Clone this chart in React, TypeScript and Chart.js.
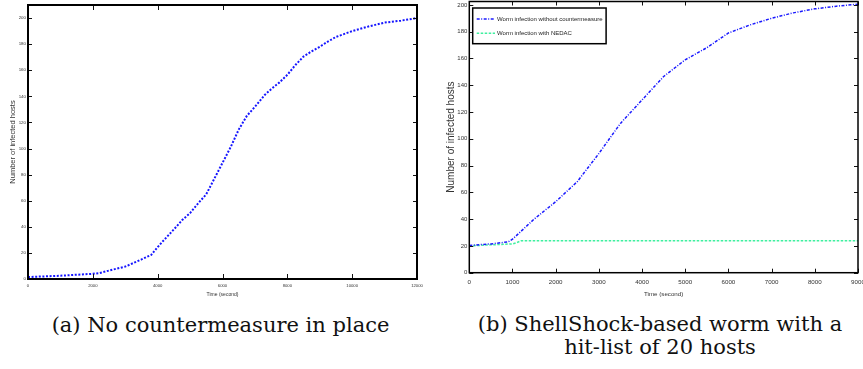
import { useEffect, useRef } from "react";
import { Chart, registerables } from "chart.js";

Chart.register(...registerables);

// ---------- Data: (a) No countermeasure ----------
const timeA = [0, 1000, 2000, 2200, 2500, 3000, 3500, 3800, 4000, 4200, 4500, 4750, 5000, 5250, 5500, 5750, 6000, 6250, 6500, 6750, 7000, 7300, 7500, 7750, 8000, 8250, 8500, 8750, 9000, 9250, 9500, 10000, 10500, 11000, 11500, 12000];
const hostsA = [1.5, 2.5, 4, 4.5, 6.5, 9.5, 15, 18.5, 24.5, 30, 38, 45, 50.5, 58, 65, 77, 89, 101, 114.5, 125, 132, 141, 145.5, 150.5, 156.5, 164, 170.5, 174.5, 178, 182, 185.5, 190, 193.5, 196.5, 198, 200];
const xTicksA = [0, 2000, 4000, 6000, 8000, 10000, 12000];
const yTicksA = [0, 20, 40, 60, 80, 100, 120, 140, 160, 180, 200];

// ---------- Data: (b) ShellShock worm, hit-list of 20 ----------
const timeB = [0, 500, 900, 1000, 1500, 2000, 2500, 3000, 3500, 4000, 4500, 5000, 5500, 6000, 6500, 7000, 7500, 8000, 8500, 9000];
const withoutB = [20.4, 21.5, 23, 25, 40, 53, 68, 89, 111.5, 129, 146.5, 159, 168, 179, 185, 190, 194, 197, 199, 200.5];
const timeN = [0, 500, 1000, 1100, 1200, 2000, 3000, 4000, 5000, 6000, 7000, 8000, 9000];
const withNedac = [20, 20.8, 21.5, 22.5, 23.8, 23.8, 23.8, 23.8, 23.8, 23.8, 23.8, 23.8, 23.8];
const xTicksB = [0, 1000, 2000, 3000, 4000, 5000, 6000, 7000, 8000, 9000];
const yTicksB = [0, 20, 40, 60, 80, 100, 120, 140, 160, 180, 200];

const labelA = "Worm infection";
const labelB1 = "Worm infection without countermeasure";
const labelB2 = "Worm infection with NEDAC";
const xTitle = "Time (second)";
const yTitle = "Number of infected hosts";

const SANS = '"Liberation Sans", Arial, sans-serif';

const pts = (xs: number[], ys: number[]) => xs.map((x, i) => ({ x, y: ys[i] }));

function framePlugin(o: { w: number; tx: number; ty: number }) {
  return {
    id: "frame",
    afterDatasetsDraw(chart: any) {
      const { ctx, chartArea, scales } = chart;
      const { left, top, right, bottom } = chartArea;
      const x = scales.x;
      const y = scales.y;
      ctx.save();
      ctx.strokeStyle = "#111";
      ctx.lineWidth = 1;
      ctx.setLineDash([]);
      ctx.beginPath();
      x.ticks.forEach((t: any) => {
        const px = Math.round(x.getPixelForValue(t.value)) + 0.5;
        ctx.moveTo(px, bottom);
        ctx.lineTo(px, bottom - o.tx);
        ctx.moveTo(px, top);
        ctx.lineTo(px, top + o.tx);
      });
      y.ticks.forEach((t: any) => {
        const py = Math.round(y.getPixelForValue(t.value)) + 0.5;
        ctx.moveTo(left, py);
        ctx.lineTo(left + o.ty, py);
        ctx.moveTo(right, py);
        ctx.lineTo(right - o.ty, py);
      });
      ctx.stroke();
      ctx.strokeStyle = "#000";
      ctx.lineWidth = o.w;
      ctx.strokeRect(left, top, right - left, bottom - top);
      ctx.restore();
    },
  };
}

const legendPlugin = {
  id: "boxLegend",
  afterDraw(chart: any) {
    const { ctx, chartArea } = chart;
    const ds = chart.data.datasets;
    const x0 = chartArea.left + 3.4;
    const y0 = chartArea.top + 6.5;
    ctx.save();
    ctx.font = `6px ${SANS}`;
    let maxW = 0;
    ds.forEach((d: any) => { maxW = Math.max(maxW, ctx.measureText(d.label).width); });
    const w = 24.3 + maxW + 3.5;
    const h = 35.7;
    ctx.fillStyle = "#fff";
    ctx.fillRect(x0, y0, w, h);
    ctx.strokeStyle = "#000";
    ctx.lineWidth = 1.5;
    ctx.strokeRect(x0, y0, w, h);
    ds.forEach((d: any, i: number) => {
      const cy = y0 + 11 + i * 14.3;
      ctx.strokeStyle = d.borderColor;
      ctx.lineWidth = d.borderWidth;
      ctx.setLineDash(d.borderDash || []);
      ctx.beginPath();
      ctx.moveTo(x0 + 4, cy);
      ctx.lineTo(x0 + 22.3, cy);
      ctx.stroke();
      ctx.setLineDash([]);
      ctx.fillStyle = "#222";
      ctx.textBaseline = "middle";
      ctx.textAlign = "left";
      ctx.fillText(d.label, x0 + 24.3, cy);
    });
    ctx.restore();
  },
};

function makeScales(p: {
  xMax: number; yMax: number; xTicks: number[]; yTicks: number[];
  yWidth: number; xHeight: number;
  tickFontX: number; tickFontY: number; xTitleFont: number; yTitleFont: number;
  xTickPad: number; yTickPad: number; xTitlePadBottom: number; yTitlePadTop: number;
}) {
  return {
    x: {
      type: "linear",
      min: 0,
      max: p.xMax,
      afterBuildTicks: (s: any) => { s.ticks = p.xTicks.map((v) => ({ value: v })); },
      afterFit: (s: any) => { s.height = p.xHeight; s.paddingLeft = 0; s.paddingRight = 0; },
      ticks: { font: { family: SANS, size: p.tickFontX }, color: "#333", padding: p.xTickPad, maxRotation: 0, autoSkip: false, callback: (v: any) => String(v) },
      grid: { display: false, drawTicks: false },
      border: { display: false },
      title: { display: true, text: xTitle, font: { family: SANS, size: p.xTitleFont }, color: "#333", padding: { top: 0, bottom: p.xTitlePadBottom } },
    },
    y: {
      type: "linear",
      min: 0,
      max: p.yMax,
      afterBuildTicks: (s: any) => { s.ticks = p.yTicks.map((v) => ({ value: v })); },
      afterFit: (s: any) => { s.width = p.yWidth; s.paddingTop = 0; s.paddingBottom = 0; },
      ticks: { font: { family: SANS, size: p.tickFontY }, color: "#333", padding: p.yTickPad, autoSkip: false, callback: (v: any) => String(v) },
      grid: { display: false, drawTicks: false },
      border: { display: false },
      title: { display: true, text: yTitle, font: { family: SANS, size: p.yTitleFont }, color: "#333", padding: { top: p.yTitlePadTop, bottom: 0 } },
    },
  };
}

export default function App() {
  const refA = useRef<HTMLCanvasElement>(null);
  const refB = useRef<HTMLCanvasElement>(null);

  useEffect(() => {
    document.body.style.margin = "0";
    const chartA = new Chart(refA.current as HTMLCanvasElement, {
      type: "line",
      data: {
        datasets: [
          { label: labelA, data: pts(timeA, hostsA), borderColor: "#1515ff", borderWidth: 2, borderDash: [2, 1.6], pointRadius: 0, tension: 0, fill: false },
        ],
      },
      options: {
        animation: false,
        responsive: false,
        maintainAspectRatio: false,
        layout: { padding: { left: 0, top: 5, right: 13, bottom: 0 } },
        plugins: { legend: { display: false }, tooltip: { enabled: false } },
        scales: makeScales({
          xMax: 12000, yMax: 210, xTicks: xTicksA, yTicks: yTicksA,
          yWidth: 28, xHeight: 26, tickFontX: 4.2, tickFontY: 4.4, xTitleFont: 5, yTitleFont: 7.5,
          xTickPad: 4.5, yTickPad: 2, xTitlePadBottom: 7.5, yTitlePadTop: 8.5,
        }) as any,
      },
      plugins: [framePlugin({ w: 2, tx: 5, ty: 4 })],
    } as any);

    const chartB = new Chart(refB.current as HTMLCanvasElement, {
      type: "line",
      data: {
        datasets: [
          { label: labelB1, data: pts(timeB, withoutB), borderColor: "#1a1aff", borderWidth: 1.5, borderDash: [3, 1.5, 1, 1.5], pointRadius: 0, tension: 0, fill: false },
          { label: labelB2, data: pts(timeN, withNedac), borderColor: "#40f0a0", borderWidth: 1.5, borderDash: [2.5, 1.5], pointRadius: 0, tension: 0, fill: false },
        ],
      },
      options: {
        animation: false,
        responsive: false,
        maintainAspectRatio: false,
        layout: { padding: { left: 0, top: 1.5, right: 12, bottom: 0 } },
        plugins: { legend: { display: false }, tooltip: { enabled: false } },
        scales: makeScales({
          xMax: 9000, yMax: 202.5, xTicks: xTicksB, yTicks: yTicksB,
          yWidth: 39.3, xHeight: 32.3, tickFontX: 6.2, tickFontY: 6, xTitleFont: 6.2, yTitleFont: 10,
          xTickPad: 6, yTickPad: 2, xTitlePadBottom: 7, yTitlePadTop: 15,
        }) as any,
      },
      plugins: [framePlugin({ w: 1.5, tx: 4, ty: 4 }), legendPlugin],
    } as any);

    return () => {
      chartA.destroy();
      chartB.destroy();
    };
  }, []);

  const cap: React.CSSProperties = {
    position: "absolute",
    fontFamily: '"DejaVu Serif", "Liberation Serif", serif',
    fontSize: "21px",
    lineHeight: "23.5px",
    textAlign: "center",
    color: "#111",
    whiteSpace: "nowrap",
  };

  return (
    <div style={{ position: "absolute", left: 0, top: 0, width: 863, height: 369, overflow: "hidden", background: "#fff" }}>
      <canvas ref={refA} width={430} height={305} style={{ position: "absolute", left: 0, top: 0, width: 430, height: 305 }} />
      <canvas ref={refB} width={440} height={305} style={{ position: "absolute", left: 430, top: 0, width: 440, height: 305 }} />
      <div style={{ ...cap, left: 0, width: 441, top: 313.6 }}>(a) No countermeasure in place</div>
      <div style={{ ...cap, left: 460, width: 400, top: 312.6 }}>
        (b) ShellShock-based worm with a<br />hit-list of 20 hosts
      </div>
    </div>
  );
}
